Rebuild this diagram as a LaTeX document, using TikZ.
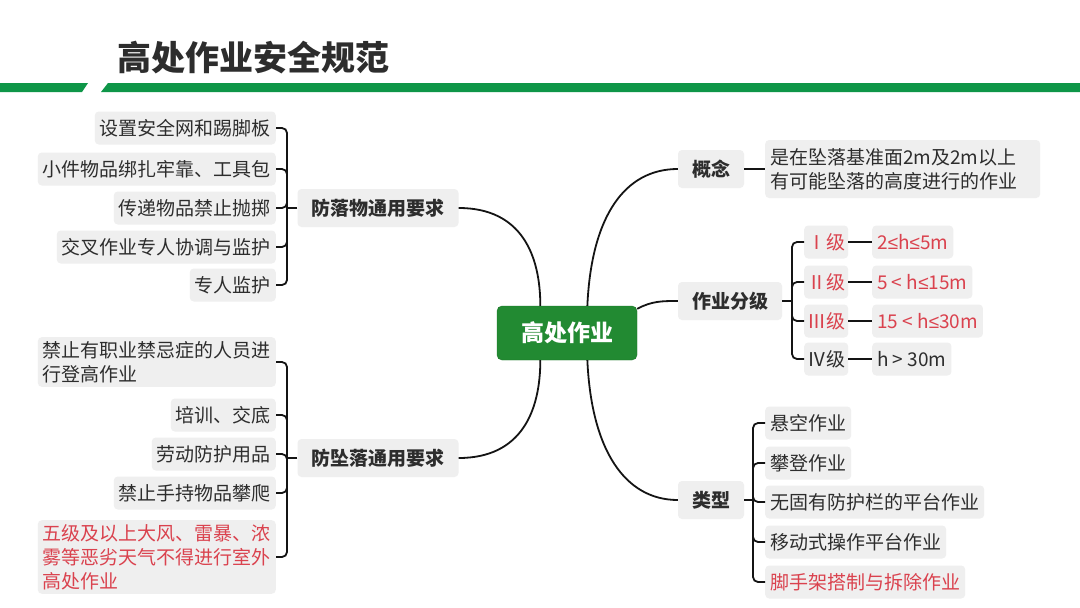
\documentclass[tikz,border=0pt]{standalone}
\usepackage{fontspec}
\setmainfont{Noto Sans CJK SC}
\newfontfamily\lsfont{Liberation Sans}
\newcommand{\lesym}{{\lsfont ≤}}
\usetikzlibrary{calc}
\definecolor{barGreen}{RGB}{14,150,72}
\definecolor{rootGreen}{RGB}{34,138,50}
\definecolor{boxGray}{RGB}{239,239,239}
\definecolor{txtGray}{RGB}{45,45,45}
\definecolor{txtRed}{RGB}{218,66,78}
\tikzset{>=latex}
\tikzstyle{leaf}=[rectangle,fill=boxGray,rounded corners=4pt,inner xsep=5pt,inner ysep=4pt,minimum height=33pt,align=left,text=txtGray,font=\fontsize{19}{24}\selectfont]
\tikzstyle{branch}=[leaf,inner xsep=14pt,minimum height=38pt,font=\fontsize{19}{24}\selectfont\bfseries]
\tikzstyle{root}=[rectangle,fill=rootGreen,draw=rootGreen!85!black,rounded corners=5pt,minimum width=140pt,minimum height=54pt,text=white,font=\fontsize{23}{28}\selectfont\bfseries]
\tikzstyle{link}=[draw=black!92,line width=1.8pt]
\tikzstyle{fork}=[link,rounded corners=5pt]

\begin{document}
\begin{tikzpicture}[x=1pt,y=-1pt]
	\def \lx {276};
	\def \lbr {287};
	\def \rbr {753};
	\def \rx {765};
	\useasboundingbox (0,0) rectangle (1080,608);
	\fill[white] (0,0) rectangle (1080,608);

	\node[anchor=west,inner sep=0pt,text=txtGray,font=\fontsize{34}{40}\selectfont\bfseries] (title) at (117,58) {高处作业安全规范};
	\fill[barGreen] (0,83) -- (88,83) -- (82,92) -- (0,92) -- cycle;
	\fill[barGreen] (108,83) -- (1080,83) -- (1080,92) -- (101,92) -- cycle;

	\node[root] (root) at (567,333) {高处作业};

	\node[branch] (wuti) at (378,208) {防落物通用要求};
	\coordinate (wtj) at (\lbr,208);
	\draw[link] (wuti.west) -- (wtj);
	\foreach \y/\t [count=\i] in {128/设置安全网和踢脚板,169/小件物品绑扎牢靠、工具包,208/传递物品禁止抛掷,247/交叉作业专人协调与监护,285/专人监护} {
		\node[leaf,anchor=east] (wt\i) at (\lx,\y) {\t};
		\draw[fork] (wtj) |- (wt\i.east);
	};

	\node[branch] (zhuiluo) at (378,458) {防坠落通用要求};
	\coordinate (zlj) at (\lbr,458);
	\draw[link] (zhuiluo.west) -- (zlj);
	\foreach \y/\c/\t [count=\i] in {362/txtGray/{禁止有职业禁忌症的人员进\\行登高作业},415/txtGray/培训、交底,454/txtGray/劳动防护用品,493/txtGray/禁止手持物品攀爬,557/txtRed/{五级及以上大风、雷暴、浓\\雾等恶劣天气不得进行室外\\高处作业}} {
		\node[leaf,anchor=east,text=\c] (zl\i) at (\lx,\y) {\t};
		\draw[fork] (zlj) |- (zl\i.east);
	};

	\node[branch] (gainian) at (711,169) {概念};
	\node[leaf,anchor=west,minimum height=58pt,text width=265pt] (gntext) at (\rx,169) {是在坠落基准面2m及2m以上\\有可能坠落的高度进行的作业};
	\draw[link] (gainian.east) -- (gntext.west);

	\node[branch] (fenji) at (730,301) {作业分级};
	\coordinate (fjj) at (792,301);
	\draw[link] (fenji.east) -- (fjj);
	\foreach \y/\c/\g/\r [count=\i] in {242/txtRed/Ⅰ级/2\lesym h\lesym 5m,282/txtRed/Ⅱ级/5 < h\lesym 15m,321/txtRed/Ⅲ级/15 < h\lesym 30m,359/txtGray/Ⅳ级/h > 30m} {
		\node[leaf,anchor=west,inner xsep=3pt,text=\c] (fj\i) at (804,\y) {\g};
		\node[leaf,anchor=west,text=\c] (fw\i) at (872,\y) {\r};
		\draw[fork] (fjj) |- (fj\i.west);
		\draw[link] (fj\i.east) -- (fw\i.west);
	};

	\node[branch] (leixing) at (711,500) {类型};
	\coordinate (lxj) at (\rbr,500);
	\draw[link] (leixing.east) -- (lxj);
	\foreach \y/\c/\t [count=\i] in {423/txtGray/悬空作业,463/txtGray/攀登作业,502/txtGray/无固有防护栏的平台作业,542/txtGray/移动式操作平台作业,582/txtRed/脚手架搭制与拆除作业} {
		\node[leaf,anchor=west,text=\c] (lx\i) at (\rx,\y) {\t};
		\draw[fork] (lxj) |- (lx\i.west);
	};

	\draw[link] (wuti.east) .. controls (522,208) and ($(root.north west)!0.31!(root.north east)+(0,-50)$) .. ($(root.north west)!0.31!(root.north east)$);
	\draw[link] (zhuiluo.east) .. controls (522,458) and ($(root.south west)!0.31!(root.south east)+(0,50)$) .. ($(root.south west)!0.31!(root.south east)$);
	\draw[link] ($(root.north west)!0.645!(root.north east)$) .. controls ($(root.north west)!0.645!(root.north east)+(4,-90)$) and (625,169) .. (gainian.west);
	\draw[link] ($(root.south west)!0.645!(root.south east)$) .. controls ($(root.south west)!0.645!(root.south east)+(4,90)$) and (625,500) .. (leixing.west);
	\draw[link] ($(root.north east)+(0,3)$) .. controls (652,301) and (662,301) .. (fenji.west);
\end{tikzpicture}
\end{document}
